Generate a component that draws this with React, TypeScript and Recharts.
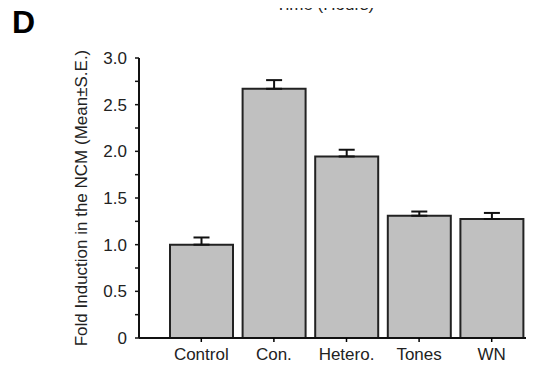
import { Bar, BarChart, ErrorBar, XAxis, YAxis } from "recharts";

const groups = ["Control", "Con.", "Hetero.", "Tones", "WN"];
const means = [1.0, 2.67, 1.945, 1.31, 1.275];
const errors = [0.077, 0.093, 0.072, 0.045, 0.065];
const yTicks = [0, 0.25, 0.5, 0.75, 1, 1.25, 1.5, 1.75, 2, 2.25, 2.5, 2.75, 3];

const data = groups.map((name, i) => ({
  name,
  mean: means[i],
  err: [0, errors[i]],
}));

const FONT = "Arial, 'Liberation Sans', sans-serif";
const TICK = { fill: "#222", fontSize: 17, fontFamily: FONT };

const fmtY = (v: number) => {
  if (v === 0) return "0";
  return Math.round(v * 100) % 50 === 0 ? v.toFixed(1) : "";
};

export default function App() {
  return (
    <div style={{ position: "relative", width: 534, height: 373, margin: -8, background: "#fff", overflow: "hidden" }}>
      <BarChart
        width={534}
        height={373}
        data={data}
        margin={{ top: 58, right: 6, bottom: 5, left: 0 }}
        barSize={63}
      >
        <XAxis
          dataKey="name"
          height={30}
          tick={TICK}
          tickSize={4}
          tickMargin={6}
          tickLine={{ stroke: "#000", strokeWidth: 1.5 }}
          axisLine={{ stroke: "#111", strokeWidth: 2 }}
          padding={{ left: 26, right: 0 }}
        />
        <YAxis
          width={139}
          domain={[0, 3]}
          ticks={yTicks}
          interval={0}
          tickFormatter={fmtY}
          tick={TICK}
          tickSize={4}
          tickMargin={8}
          tickLine={{ stroke: "#111", strokeWidth: 1.5 }}
          axisLine={{ stroke: "#111", strokeWidth: 2 }}
          label={{
            value: "Fold Induction in the NCM (Mean±S.E.)",
            angle: -90,
            position: "center",
            dx: 11,
            style: { fill: "#222", fontSize: 17, fontFamily: FONT },
          }}
        />
        <Bar dataKey="mean" fill="#c0c0c0" stroke="#222" strokeWidth={2} isAnimationActive={false}>
          <ErrorBar dataKey="err" direction="y" width={8} stroke="#111" strokeWidth={2} />
        </Bar>
      </BarChart>
      <div
        style={{
          position: "absolute",
          left: 275,
          top: -4,
          width: 100,
          textAlign: "center",
          fontFamily: FONT,
          fontSize: 17,
          lineHeight: "17px",
          color: "#222",
          whiteSpace: "nowrap",
        }}
      >
        Time (Hours)
      </div>
      <div
        style={{
          position: "absolute",
          left: 12,
          top: 6,
          fontFamily: FONT,
          fontWeight: "bold",
          fontSize: 32,
          lineHeight: "32px",
          color: "#000",
        }}
      >
        D
      </div>
    </div>
  );
}
